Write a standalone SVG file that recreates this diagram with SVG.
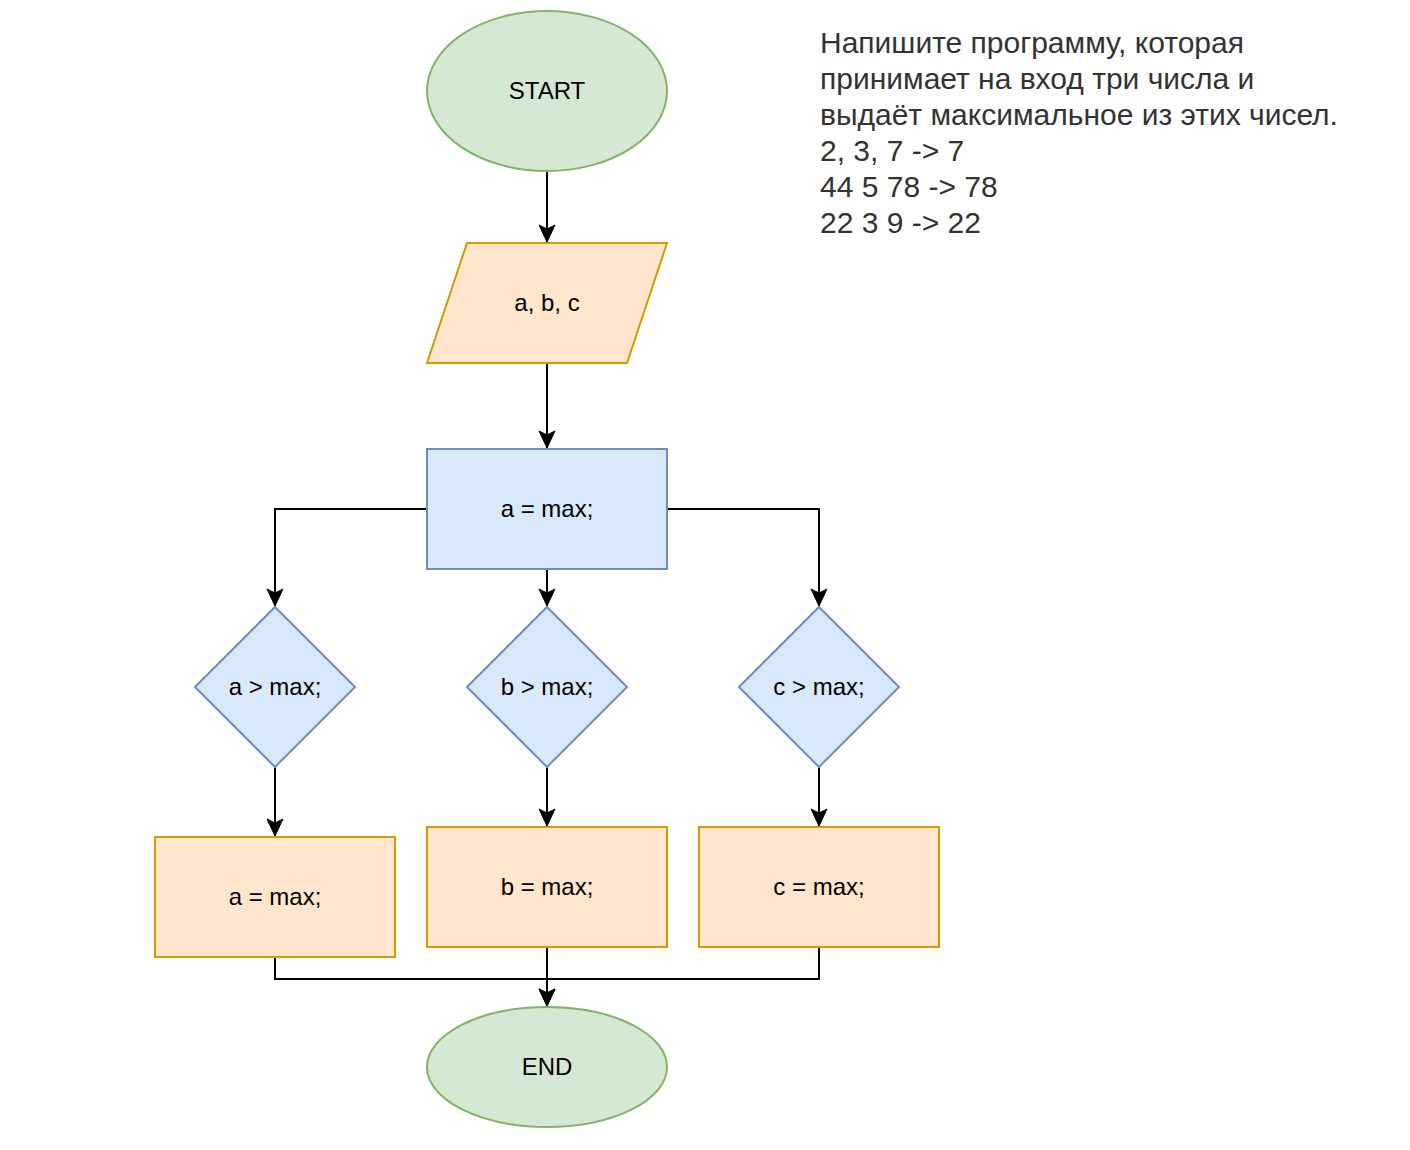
<svg xmlns="http://www.w3.org/2000/svg" width="1410" height="1150" viewBox="0 0 1410 1150">
  <style>
    .lbl { font-family: Helvetica, "Liberation Sans", Arial, sans-serif; font-size: 24px; fill: #000000; text-anchor: middle; }
    .desc { font-family: Helvetica, "Liberation Sans", Arial, sans-serif; font-size: 30px; fill: #333333; }
    .green { fill: #d5e8d4; stroke: #82b366; stroke-width: 2; }
    .orange { fill: #ffe6cc; stroke: #d79b00; stroke-width: 2; }
    .blue { fill: #dae8fc; stroke: #6c8ebf; stroke-width: 2; }
    .edge { fill: none; stroke: #000000; stroke-width: 2; }
  </style>
  <defs>
    <marker id="arrow" markerUnits="userSpaceOnUse" markerWidth="20" markerHeight="20" refX="0" refY="0" viewBox="-18 -10 20 20" orient="auto">
      <path d="M0,0 L-17,-8 L-13,0 L-17,8 Z" fill="#000000" stroke="#000000" stroke-width="1"/>
    </marker>
  </defs>
  <rect width="1410" height="1150" fill="#ffffff"/>

  <g id="connectors">
    <path class="edge" d="M547,171 L547,242" marker-end="url(#arrow)"/>
    <path class="edge" d="M547,363 L547,448" marker-end="url(#arrow)"/>
    <path class="edge" d="M427,509 L275,509 L275,606" marker-end="url(#arrow)"/>
    <path class="edge" d="M547,569 L547,606" marker-end="url(#arrow)"/>
    <path class="edge" d="M667,509 L819,509 L819,606" marker-end="url(#arrow)"/>
    <path class="edge" d="M275,767 L275,836" marker-end="url(#arrow)"/>
    <path class="edge" d="M547,767 L547,826" marker-end="url(#arrow)"/>
    <path class="edge" d="M819,767 L819,826" marker-end="url(#arrow)"/>
    <path class="edge" d="M275,957 L275,979 L547,979 L547,1006" marker-end="url(#arrow)"/>
    <path class="edge" d="M547,947 L547,1006" marker-end="url(#arrow)"/>
    <path class="edge" d="M819,947 L819,979 L547,979"/>
  </g>

  <g id="start">
    <ellipse class="green" cx="547" cy="91" rx="120" ry="80"/>
    <text class="lbl" x="547" y="99">START</text>
  </g>
  <g id="input">
    <polygon class="orange" points="467,243 667,243 627,363 427,363"/>
    <text class="lbl" x="547" y="311">a, b, c</text>
  </g>
  <g id="init">
    <rect class="blue" x="427" y="449" width="240" height="120"/>
    <text class="lbl" x="547" y="517">a = max;</text>
  </g>
  <g id="cond-a">
    <polygon class="blue" points="275,607 355,687 275,767 195,687"/>
    <text class="lbl" x="275" y="695">a &gt; max;</text>
  </g>
  <g id="cond-b">
    <polygon class="blue" points="547,607 627,687 547,767 467,687"/>
    <text class="lbl" x="547" y="695">b &gt; max;</text>
  </g>
  <g id="cond-c">
    <polygon class="blue" points="819,607 899,687 819,767 739,687"/>
    <text class="lbl" x="819" y="695">c &gt; max;</text>
  </g>
  <g id="set-a">
    <rect class="orange" x="155" y="837" width="240" height="120"/>
    <text class="lbl" x="275" y="905">a = max;</text>
  </g>
  <g id="set-b">
    <rect class="orange" x="427" y="827" width="240" height="120"/>
    <text class="lbl" x="547" y="895">b = max;</text>
  </g>
  <g id="set-c">
    <rect class="orange" x="699" y="827" width="240" height="120"/>
    <text class="lbl" x="819" y="895">c = max;</text>
  </g>
  <g id="end">
    <ellipse class="green" cx="547" cy="1067" rx="120" ry="60"/>
    <text class="lbl" x="547" y="1075">END</text>
  </g>

  <g id="description">
    <text class="desc" x="820" y="53">Напишите программу, которая</text>
    <text class="desc" x="820" y="89">принимает на вход три числа и</text>
    <text class="desc" x="820" y="125">выдаёт максимальное из этих чисел.</text>
    <text class="desc" x="820" y="161">2, 3, 7 -&gt; 7</text>
    <text class="desc" x="820" y="197">44 5 78 -&gt; 78</text>
    <text class="desc" x="820" y="233">22 3 9 -&gt; 22</text>
  </g>
</svg>
